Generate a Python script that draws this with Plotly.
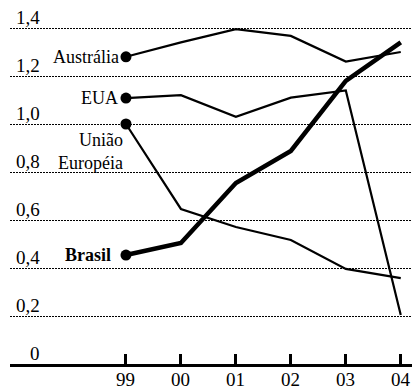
import plotly.graph_objects as go

years = ["99", "00", "01", "02", "03", "04"]
australia = [1.28, 1.34, 1.395, 1.367, 1.26, 1.30]
eua = [1.108, 1.12, 1.03, 1.11, 1.14, 0.204]
ue = [1.0, 0.646, 0.571, 0.517, 0.396, 0.358]
brasil = [0.454, 0.504, 0.754, 0.8875, 1.18, 1.34]
ytick_vals = [0.2, 0.4, 0.6, 0.8, 1.0, 1.2, 1.4]
ytick_text = ["0,2", "0,4", "0,6", "0,8", "1,0", "1,2", "1,4"]

xpos = list(range(len(years)))
FONT = "Liberation Serif, Times New Roman, serif"

fig = go.Figure()
series = [
    (australia, 2.2),
    (eua, 2.2),
    (ue, 2.2),
    (brasil, 4.5),
]
for vals, w in series:
    fig.add_trace(go.Scatter(x=xpos, y=vals, mode="lines", line=dict(color="black", width=w),
                             showlegend=False, hoverinfo="skip"))
    fig.add_trace(go.Scatter(x=[xpos[0]], y=[vals[0]], mode="markers",
                             marker=dict(color="black", size=11), showlegend=False, hoverinfo="skip"))

# series labels
fig.add_annotation(x=xpos[0], y=australia[0], text="Austrália", showarrow=False, xanchor="right",
                   xshift=-5, font=dict(size=18, family=FONT, color="black"))
fig.add_annotation(x=xpos[0], y=eua[0], text="EUA", showarrow=False, xanchor="right",
                   xshift=-6, font=dict(size=18, family=FONT, color="black"))
fig.add_annotation(x=xpos[0], y=ue[0], text="União<br>Européia", showarrow=False, xanchor="right",
                   yanchor="top", align="right", xshift=-1, yshift=-4,
                   font=dict(size=18, family=FONT, color="black"))
fig.add_annotation(x=xpos[0], y=brasil[0], text="<b>Brasil</b>", showarrow=False, xanchor="right",
                   xshift=-13, font=dict(size=18, family=FONT, color="black"))

# y tick labels above gridlines
for v, t in zip(ytick_vals + [0.0], ytick_text + ["0"]):
    fig.add_annotation(xref="paper", x=32 / 410, y=v, text=t, showarrow=False, xanchor="right",
                       yanchor="bottom", yshift=-2, font=dict(size=19, family=FONT, color="black"))

# x tick labels
for xp, t in zip(xpos, years):
    fig.add_annotation(x=xp, yref="paper", y=0, text=t, showarrow=False, xanchor="center",
                       yanchor="top", yshift=-3, font=dict(size=19, family=FONT, color="black"))

fig.update_layout(
    width=420, height=392,
    margin=dict(l=2, r=8, t=8, b=36),
    paper_bgcolor="white", plot_bgcolor="white",
    xaxis=dict(range=[-2.11, 5.35], tickvals=xpos, showticklabels=False, showgrid=False,
               zeroline=False, showline=True, linecolor="black", linewidth=2.5, ticks="inside",
               ticklen=10, tickwidth=2.5, tickcolor="black"),
    yaxis=dict(range=[0, 1.45], tickvals=ytick_vals, showticklabels=False, showgrid=True,
               gridcolor="black", gridwidth=1.2, griddash="2px,1px", zeroline=False, showline=False),
)

fig.write_html("out.html")
